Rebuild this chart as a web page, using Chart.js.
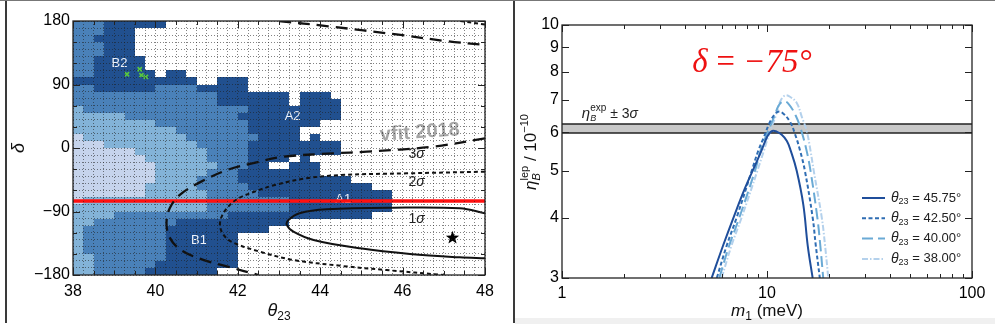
<!DOCTYPE html>
<html>
<head>
<meta charset="utf-8">
<title>theta23 / delta scan and eta_B</title>
<script src="https://cdn.jsdelivr.net/npm/chart.js@4.4.1/dist/chart.umd.min.js"></script>
<style>
  html, body { margin: 0; padding: 0; background: #fff; }
  #page { position: relative; width: 995px; height: 334px; overflow: hidden; }
  .rule { position: absolute; background: #3a3a3a; }
  canvas { position: absolute; }
</style>
</head>
<body>
<div id="page">
  <div class="rule" style="left:0;top:0;width:995px;height:1px;background:#777"></div>
  <div class="rule" style="left:5px;top:1px;width:2px;height:322px"></div>
  <div class="rule" style="left:513px;top:1px;width:2px;height:322px"></div>
  <div class="rule" style="left:515px;top:318px;width:480px;height:6px;background:#f0f0f0"></div>
  <canvas id="scanChart" width="505" height="321" style="left:8px;top:2px"></canvas>
  <canvas id="etaChart" width="478" height="321" style="left:517px;top:2px"></canvas>
</div>
<script>
// ---------- left panel: scan over theta23 / delta ----------
const thetaTickLabels = [38, 40, 42, 44, 46, 48];
const deltaTickLabels = [-180, -90, 0, 90, 180];

// cells: 0.25 deg in theta23, 10 deg in delta, rows from delta = 180 downwards
const cellThetaStart = 38;
const cellThetaStep = 0.25;
const cellDeltaTop = 180;
const cellDeltaStep = 10;
// '.' = no point, 1 = lightest ... 4 = darkest
const cellRows = [
  '333444444. .......... .......... ..........',
  '333444.... .......... .......... ..........',
  '334444.... .......... .......... ..........',
  '333444.... .......... .......... ..........',
  '333444.... .......... .......... ..........',
  '3344444... .......... .......... ..........',
  '3344444... .......... .......... ..........',
  '33444444.4 4......... .......... ..........',
  '4444444444 44..444... .......... ..........',
  '3344444433 3344444... .......... ..........',
  '3333333333 3333444444 4.444..... ..........',
  '3333333333 3333444444 4.4444.... ..........',
  '2333333333 3333333444 444444.... ..........',
  '2222233333 3333334444 444444.... ..........',
  '2222222233 3333333444 4444...... ..........',
  '2222222222 3333333444 44........ ..........',
  '1222222222 2333333344 44.4...... ..........',
  '1112222222 2233333444 444444.... ..........',
  '1111112222 2223333444 444444.... ..........',
  '1111111222 2223333444 4.4....... ..........',
  '1111111122 222233344. .444...... ..........',
  '1111111122 2223334444 4444...... ..........',
  '1111111122 2233334444 4444444... ..........',
  '1111111222 2233333444 444444444. ..........',
  '1111111222 2223333344 4444444444 4.........',
  '1222222222 2223333333 3444444444 4.........',
  '2222222222 2223333333 3444444444 4.........',
  '2222333333 3333344444 444444444. ..........',
  '2233333333 4444444444 4......... ..........',
  '2333333334 444444444. .......... ..........',
  '2333333334 444444.... .......... ..........',
  '2333333334 444444.... .......... ..........',
  '2333333334 444444.... .......... ..........',
  '2233333334 444444.... .......... ..........',
  '2233333344 444444.... .......... ..........',
  '2233333444 4444...... .......... ..........'
];
const cellColors = { '1': '#c6d4ec', '2': '#83b3d8', '3': '#4a81b9', '4': '#21508f' };

// confidence contours
const sigma1Theta = [48, 47.39, 45.77, 44.16, 43.5, 43.23, 43.19, 43.35, 43.84, 44.97, 46.18, 47.39, 48];
const sigma1Delta = [-92.5, -85.5, -84.6, -86.9, -92.5, -102, -109, -118.6, -130.4, -142.2, -150.2, -155, -156.3];
const sigma2Theta = [48, 46.1, 44.5, 43.66, 42.93, 42.4, 41.97, 41.7, 41.57, 41.62, 41.85, 42.54, 43.35, 44.5, 45.6, 47.0];
const sigma2Delta = [-33.6, -35.9, -38.3, -43, -52, -62, -73, -88, -105, -120, -133, -147, -158.7, -167, -173, -180];
const sigma2TopTheta = [47.4, 48];
const sigma2TopDelta = [180, 175];
const sigma3Theta = [48, 46.75, 45.13, 44.3, 43.1, 42.4, 41.75, 41.1, 40.6, 40.35, 40.27, 40.33, 40.6, 41.16, 41.75, 42.5];
const sigma3Delta = [13.7, 1.9, -5.2, -7.6, -12.5, -21, -31, -48, -66, -85, -105, -125, -144, -158.5, -168, -180];
const sigma3TopTheta = [43.0, 44.2, 45.9, 47.1, 48];
const sigma3TopDelta = [180, 172.5, 160.6, 151.2, 146];

const chosenDelta = -75;
const bestFitTheta = [47.21];
const bestFitDelta = [-126.8];
const benchTheta = [39.31, 39.62, 39.66, 39.77];
const benchDelta = [104.6, 111.7, 103.2, 100.8];

const regionNames = ['B2', 'A2', 'A1', 'B1'];
const regionTheta = [39.13, 43.33, 44.56, 41.06];
const regionDelta = [119.7, 44.3, -72.6, -131];
const sigmaNames = ['3', '2', '1'];
const sigmaTheta = [46.34, 46.34, 46.34];
const sigmaDelta = [-8.5, -49, -100.8];

// ---------- right panel: eta_B vs m1 ----------
const m1TickLabels = [1, 10, 100];
const etaTickLabels = [3, 4, 5, 6, 7, 8, 9, 10];
const etaBandLow = 5.98;
const etaBandHigh = 6.24;
const m1Theta4575 = [5.37, 6.12, 6.85, 7.81, 8.91, 9.4, 9.78, 10.15, 10.6, 11.15, 11.8, 12.5, 13.05, 13.96, 15.04, 15.8, 16.7];
const eta4575 = [3.0, 3.51, 3.99, 4.60, 5.22, 5.5, 5.74, 5.93, 6.04, 6.02, 5.93, 5.76, 5.5, 5.0, 4.25, 3.5, 3.0];
const m1Theta4250 = [5.69, 6.36, 7.11, 8.43, 9.07, 9.6, 10.35, 10.9, 11.35, 11.95, 12.95, 13.7, 14.5, 15.3, 16.7, 17.3, 18.1];
const eta4250 = [3.0, 3.5, 4.0, 5.0, 5.5, 5.83, 6.31, 6.53, 6.62, 6.57, 6.31, 5.95, 5.5, 5.0, 4.0, 3.5, 3.0];
const m1Theta4000 = [5.85, 6.54, 7.33, 8.74, 9.3, 9.9, 10.9, 11.4, 12.0, 12.7, 13.8, 14.7, 15.6, 16.3, 17.6, 18.2, 18.8];
const eta4000 = [3.0, 3.5, 4.0, 5.0, 5.5, 5.9, 6.5, 6.82, 6.95, 6.88, 6.5, 6.05, 5.5, 5.0, 4.0, 3.5, 3.0];
const m1Theta3800 = [6.01, 6.71, 7.52, 8.98, 9.66, 10.3, 11.05, 11.6, 12.24, 13.0, 13.97, 14.8, 15.6, 16.3, 16.9, 18.5, 19.2, 19.9];
const eta3800 = [3.0, 3.5, 4.0, 5.0, 5.5, 6.0, 6.5, 6.95, 7.15, 7.1, 6.9, 6.45, 6.05, 5.5, 5.0, 4.0, 3.5, 3.0];
const curveLabels = ['45.75', '42.50', '40.00', '38.00'];

const SANS = '"Liberation Sans", Arial, sans-serif';
const SERIF = '"Liberation Serif", "Times New Roman", serif';
Chart.defaults.font.family = SANS;
Chart.defaults.color = '#111';

const pts = (xs, ys) => xs.map((v, i) => ({ x: v, y: ys[i] }));

// text made of pieces with their own font and vertical shift
function drawRich(ctx, parts, x, y, align) {
  let w = 0;
  parts.forEach(p => { ctx.font = p.font; w += p.adv === false ? 0 : ctx.measureText(p.text).width; });
  let cx = align === 'center' ? x - w / 2 : x;
  parts.forEach(p => {
    ctx.font = p.font;
    ctx.fillText(p.text, cx, y + (p.dy || 0));
    if (p.adv !== false) cx += ctx.measureText(p.text).width;
  });
}

// frame with inward tick marks on all four sides
const frameTicks = {
  id: 'frameTicks',
  afterDraw(chart, args, opts) {
    const { ctx, chartArea: a, scales: { x, y } } = chart;
    ctx.save();
    ctx.strokeStyle = '#222';
    ctx.lineWidth = 1.3;
    ctx.strokeRect(a.left, a.top, a.right - a.left, a.bottom - a.top);
    ctx.lineWidth = 1;
    const seg = (x0, y0, x1, y1) => { ctx.beginPath(); ctx.moveTo(x0, y0); ctx.lineTo(x1, y1); ctx.stroke(); };
    const xs = (vals, len) => vals.forEach(v => {
      const p = Math.round(x.getPixelForValue(v)) + 0.5;
      seg(p, a.bottom, p, a.bottom - len); seg(p, a.top, p, a.top + len);
    });
    const ys = (vals, len) => vals.forEach(v => {
      const p = Math.round(y.getPixelForValue(v)) + 0.5;
      seg(a.left, p, a.left + len, p); seg(a.right, p, a.right - len, p);
    });
    xs(opts.xMajor, 7); xs(opts.xMinor, 4);
    ys(opts.yMajor, 7); ys(opts.yMinor, 4);
    ctx.restore();
  }
};

// coloured cells of the scan
const heatmap = {
  id: 'heatmap',
  beforeDatasetsDraw(chart) {
    const { ctx, scales: { x, y } } = chart;
    ctx.save();
    cellRows.forEach((row, r) => {
      const cells = row.replace(/ /g, '');
      const yTop = Math.round(y.getPixelForValue(cellDeltaTop - r * cellDeltaStep));
      const yBot = Math.round(y.getPixelForValue(cellDeltaTop - (r + 1) * cellDeltaStep));
      for (let c = 0; c < cells.length; c++) {
        const col = cellColors[cells[c]];
        if (!col) continue;
        const x0 = Math.round(x.getPixelForValue(cellThetaStart + c * cellThetaStep));
        const x1 = Math.round(x.getPixelForValue(cellThetaStart + (c + 1) * cellThetaStep));
        ctx.fillStyle = col;
        ctx.fillRect(x0, yTop, x1 - x0, yBot - yTop);
      }
    });
    ctx.restore();
  }
};

const scanLabels = {
  id: 'scanLabels',
  beforeDatasetsDraw(chart) {
    const { ctx, scales: { x, y } } = chart;
    ctx.save();
    ctx.textBaseline = 'middle';
    ctx.textAlign = 'center';
    ctx.fillStyle = '#eef3fb';
    ctx.font = '13px ' + SANS;
    regionNames.forEach((n, i) => ctx.fillText(n, x.getPixelForValue(regionTheta[i]), y.getPixelForValue(regionDelta[i])));

    ctx.textAlign = 'left';
    ctx.fillStyle = '#222';
    sigmaNames.forEach((n, i) => {
      drawRich(ctx, [
        { text: n, font: '14px ' + SANS },
        { text: 'σ', font: 'italic 14px ' + SANS }
      ], x.getPixelForValue(sigmaTheta[i]), y.getPixelForValue(sigmaDelta[i]), 'center');
    });

    // fit label
    ctx.translate(x.getPixelForValue(46.42), y.getPixelForValue(22));
    ctx.rotate(-0.07);
    ctx.textAlign = 'center';
    ctx.fillStyle = '#a6a6a6';
    ctx.font = 'bold 20px ' + SANS;
    ctx.fillText('vfit 2018', 0, 0);
    ctx.restore();
  },
  afterDraw(chart) {
    const { ctx, chartArea: a } = chart;
    ctx.save();
    ctx.fillStyle = '#111';
    ctx.textAlign = 'left';
    ctx.textBaseline = 'alphabetic';
    drawRich(ctx, [
      { text: 'θ', font: 'italic 18px ' + SANS },
      { text: '23', font: '12px ' + SANS, dy: 4 }
    ], (a.left + a.right) / 2, 314, 'center');
    ctx.translate(16, (a.top + a.bottom) / 2);
    ctx.rotate(-Math.PI / 2);
    drawRich(ctx, [{ text: 'δ', font: 'italic 18px ' + SANS }], 0, 0, 'center');
    ctx.restore();
  }
};

// five-pointed star for the best fit point
const starImg = document.createElement('canvas');
starImg.width = 15; starImg.height = 15;
(() => {
  const s = starImg.getContext('2d');
  s.beginPath();
  for (let i = 0; i < 10; i++) {
    const r = i % 2 === 0 ? 7 : 2.9;
    const ang = -Math.PI / 2 + i * Math.PI / 5;
    s.lineTo(7.5 + r * Math.cos(ang), 7.8 + r * Math.sin(ang));
  }
  s.closePath();
  s.fillStyle = '#000';
  s.fill();
})();

const contour = (data, dash, width) => ({
  data, showLine: true, borderColor: '#111', borderWidth: width, borderDash: dash,
  pointRadius: 0, tension: 0.35, fill: false
});

new Chart(document.getElementById('scanChart'), {
  type: 'scatter',
  data: {
    datasets: [
      { data: pts(bestFitTheta, bestFitDelta), pointStyle: starImg, pointRadius: 7, showLine: false },
      { data: pts(benchTheta, benchDelta), pointStyle: 'crossRot', pointRadius: 3, borderColor: '#58c83e',
        pointBorderWidth: 1.6, showLine: false },
      contour(pts(sigma1Theta, sigma1Delta), [], 2),
      contour(pts(sigma2Theta, sigma2Delta), [4, 3], 2),
      contour(pts(sigma2TopTheta, sigma2TopDelta), [4, 3], 2),
      contour(pts(sigma3Theta, sigma3Delta), [12, 7], 2.3),
      contour(pts(sigma3TopTheta, sigma3TopDelta), [12, 7], 2.3),
      { data: pts([38, 48], [chosenDelta, chosenDelta]), showLine: true, borderColor: '#ff1010',
        borderWidth: 3.5, pointRadius: 0 }
    ]
  },
  options: {
    responsive: false,
    animation: false,
    layout: { padding: { top: 19, right: 28, left: 0, bottom: 0 } },
    plugins: {
      legend: { display: false },
      tooltip: { enabled: false },
      frameTicks: {
        xMajor: thetaTickLabels, xMinor: [38.5, 39, 39.5, 40.5, 41, 41.5, 42.5, 43, 43.5, 44.5, 45, 45.5, 46.5, 47, 47.5],
        yMajor: deltaTickLabels, yMinor: [-150, -120, -60, -30, 30, 60, 120, 150]
      }
    },
    scales: {
      x: {
        type: 'linear', min: 38, max: 48,
        afterBuildTicks: s => {
          const t = [];
          for (let k = 0; k <= 40; k++) t.push({ value: cellThetaStart + k * cellThetaStep });
          s.ticks = t;
        },
        afterFit: s => { s.height = 48; },
        grid: { z: 1, color: 'rgba(30,30,30,0.55)', lineWidth: 1, drawTicks: false },
        border: { display: false, dash: [1, 2] },
        ticks: {
          autoSkip: false, maxRotation: 0, minRotation: 0, padding: 7, color: '#000',
          font: { size: 16 },
          callback: v => thetaTickLabels.includes(v) ? String(v) : ''
        }
      },
      y: {
        type: 'linear', min: -180, max: 180,
        afterBuildTicks: s => {
          const t = [];
          for (let k = 0; k <= 36; k++) t.push({ value: cellDeltaTop - k * cellDeltaStep });
          s.ticks = t;
        },
        afterFit: s => { s.width = 65; },
        grid: { z: 1, color: 'rgba(30,30,30,0.55)', lineWidth: 1, drawTicks: false },
        border: { display: false, dash: [1, 2] },
        ticks: {
          autoSkip: false, padding: 3, color: '#000', font: { size: 16 },
          callback: v => deltaTickLabels.includes(v) ? (v < 0 ? '\u2212' + (-v) : String(v)) : ''
        }
      }
    }
  },
  plugins: [heatmap, scanLabels, frameTicks]
});

// ---------- right chart ----------
const curveStyles = [
  { color: '#1f4e9b', dash: [], width: 2 },
  { color: '#2f6db3', dash: [4, 2.5], width: 2 },
  { color: '#6aaad5', dash: [11, 5], width: 2 },
  { color: '#b4d1ec', dash: [6, 2, 1.5, 2], width: 2 }
];
const curveData = [
  pts(m1Theta4575, eta4575),
  pts(m1Theta4250, eta4250),
  pts(m1Theta4000, eta4000),
  pts(m1Theta3800, eta3800)
];

const etaLabels = {
  id: 'etaLabels',
  afterDatasetsDraw(chart) {
    const { ctx, chartArea: a, scales: { x, y } } = chart;
    ctx.save();
    ctx.textBaseline = 'alphabetic';
    // big red label
    ctx.fillStyle = '#ee1111';
    ctx.textAlign = 'center';
    ctx.font = 'italic 33px ' + SERIF;
    ctx.fillText('δ\u2009=\u2009\u221275°', x.getPixelForValue(8.45), y.getPixelForValue(8.0));

    // band label
    ctx.fillStyle = '#222';
    ctx.textAlign = 'left';
    const bx = x.getPixelForValue(1.25), by = y.getPixelForValue(etaBandHigh) - 6;
    drawRich(ctx, [
      { text: 'η', font: 'italic 15px ' + SANS },
      { text: 'B', font: 'italic 9px ' + SANS, dy: 3, adv: false },
      { text: 'exp', font: '10px ' + SANS, dy: -7 },
      { text: ' ± 3', font: '14px ' + SANS },
      { text: 'σ', font: 'italic 14px ' + SANS }
    ], bx, by, 'left');

    // legend
    chart.data.datasets.slice(0, 4).forEach((ds, i) => {
      const ly = a.bottom - 80 + i * 20.3;
      ctx.save();
      ctx.strokeStyle = ds.borderColor;
      ctx.lineWidth = ds.borderWidth;
      ctx.setLineDash(ds.borderDash);
      ctx.beginPath();
      ctx.moveTo(a.right - 110, ly);
      ctx.lineTo(a.right - 87, ly);
      ctx.stroke();
      ctx.restore();
      ctx.textBaseline = 'middle';
      drawRich(ctx, [
        { text: 'θ', font: 'italic 14px ' + SANS },
        { text: '23', font: '9px ' + SANS, dy: 4 },
        { text: ' = ' + curveLabels[i] + '°', font: '13px ' + SANS }
      ], a.right - 81, ly, 'left');
    });
    ctx.restore();
  },
  afterDraw(chart) {
    const { ctx, chartArea: a } = chart;
    ctx.save();
    ctx.fillStyle = '#111';
    ctx.textBaseline = 'alphabetic';
    drawRich(ctx, [
      { text: 'm', font: 'italic 17px ' + SANS },
      { text: '1', font: '12px ' + SANS, dy: 4 },
      { text: ' (meV)', font: '17px ' + SANS }
    ], (a.left + a.right) / 2, 314, 'center');
    ctx.translate(19, 150);
    ctx.rotate(-Math.PI / 2);
    drawRich(ctx, [
      { text: 'η', font: 'italic 17px ' + SANS },
      { text: 'B', font: 'italic 11px ' + SANS, dy: 4, adv: false },
      { text: 'lep', font: '11px ' + SANS, dy: -8 },
      { text: ' / 10', font: '17px ' + SANS },
      { text: '\u221210', font: '11px ' + SANS, dy: -8 }
    ], 0, 0, 'center');
    ctx.restore();
  }
};

new Chart(document.getElementById('etaChart'), {
  type: 'scatter',
  data: {
    datasets: curveData.map((d, i) => ({
      data: d, showLine: true, borderColor: curveStyles[i].color, borderWidth: curveStyles[i].width,
      borderDash: curveStyles[i].dash, pointRadius: 0, tension: 0.4, fill: false
    })).concat([
      { data: pts([1, 100], [etaBandHigh, etaBandHigh]), showLine: true, borderColor: '#222',
        borderWidth: 1.5, pointRadius: 0, fill: false },
      { data: pts([1, 100], [etaBandLow, etaBandLow]), showLine: true, borderColor: '#222',
        borderWidth: 1.5, pointRadius: 0, fill: '-1', backgroundColor: '#c8c8c8' }
    ])
  },
  options: {
    responsive: false,
    animation: false,
    layout: { padding: { top: 23, right: 23, left: 0, bottom: 0 } },
    plugins: {
      legend: { display: false },
      tooltip: { enabled: false },
      frameTicks: {
        xMajor: m1TickLabels, xMinor: [2, 3, 4, 5, 6, 7, 8, 9, 20, 30, 40, 50, 60, 70, 80, 90],
        yMajor: etaTickLabels, yMinor: []
      }
    },
    scales: {
      x: {
        type: 'logarithmic', min: 1, max: 100,
        afterFit: s => { s.height = 45; },
        grid: { display: false, drawTicks: false },
        border: { display: false },
        ticks: {
          autoSkip: false, maxRotation: 0, minRotation: 0, padding: 6, color: '#000', font: { size: 16 },
          callback: v => m1TickLabels.includes(v) ? String(v) : ''
        }
      },
      y: {
        type: 'logarithmic', min: 3, max: 10,
        afterBuildTicks: s => { s.ticks = etaTickLabels.map(v => ({ value: v })); },
        afterFit: s => { s.width = 45; },
        grid: { display: false, drawTicks: false },
        border: { display: false },
        ticks: {
          autoSkip: false, padding: 3, color: '#000', font: { size: 16 },
          callback: v => String(v)
        }
      }
    }
  },
  plugins: [etaLabels, frameTicks]
});
</script>
</body>
</html>
